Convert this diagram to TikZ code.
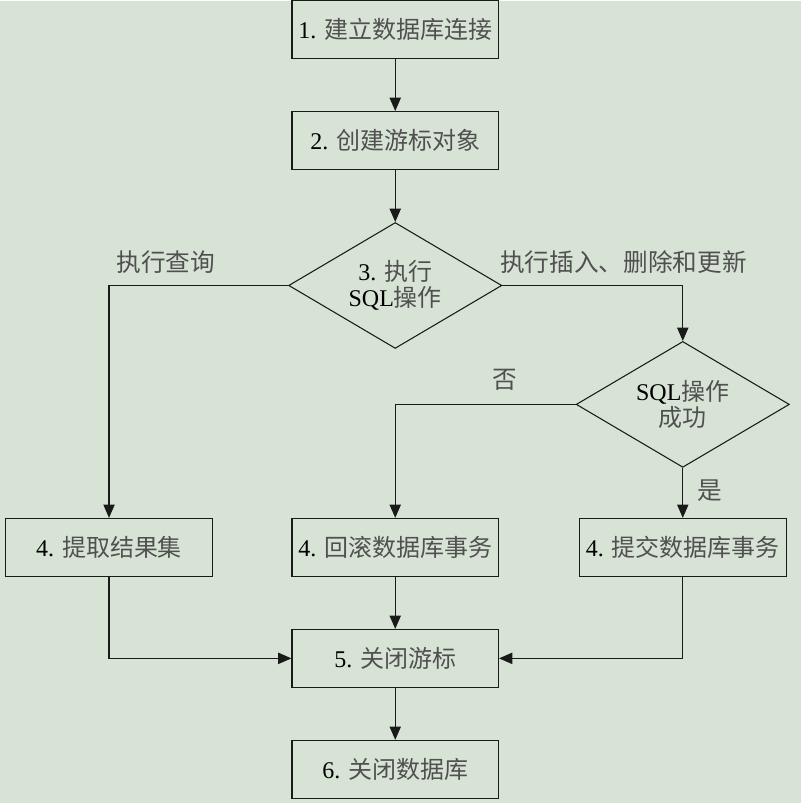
\documentclass[tikz,border=0pt]{standalone}
\usepackage{fontspec}
\setmainfont{Liberation Serif}
\newfontfamily\zhfont{Noto Sans CJK SC}
\usepackage{xcolor}
\usepackage{tikz}
\usetikzlibrary{arrows.meta,positioning,shapes.geometric}
\definecolor{flowBack}{HTML}{D7E4D5}
\definecolor{flowInk}{HTML}{1A1A1A}
\definecolor{flowText}{HTML}{505050}
\newcommand{\zh}[1]{{\zhfont\color{flowText}#1}}
\tikzset{
  process/.style={
    rectangle,
    draw=flowInk,
    line width=0.8pt,
    minimum width=155pt,
    minimum height=43.5pt,
    inner sep=0pt,
    align=center,
    font=\fontsize{18}{20}\selectfont
  },
  decision/.style={
    diamond,
    aspect=1.7,
    draw=flowInk,
    line width=0.8pt,
    minimum width=160pt,
    minimum height=94.5pt,
    inner sep=0pt,
    align=center,
    font=\fontsize{18}{20}\selectfont
  },
  arrow/.style={
    -{Triangle[length=10pt,width=8.5pt]},
    line width=0.8pt,
    draw=flowInk
  },
  note/.style={
    inner sep=0pt,
    font=\fontsize{18.5}{20}\selectfont
  }
}
\begin{document}
\begin{tikzpicture}[x=0.75pt,y=-0.75pt,node distance=39pt]
  \fill[flowBack] (0,0) rectangle (802,803);
  \node[process] (connect) at (395.5,29) {1. \zh{建立数据库连接}};
  \node[process,below=of connect] (cursor) {2. \zh{创建游标对象}};
  \node[decision,below=of cursor] (execute) {3. \zh{执行}\\SQL\zh{操作}};
  \node[process,below=126.75pt of execute] (rollback) {4. \zh{回滚数据库事务}};
  \node[process,left=59pt of rollback] (fetch) {4. \zh{提取结果集}};
  \node[process,right=60pt of rollback] (commit) {4. \zh{提交数据库事务}};
  \node[decision,above=37.5pt of commit] (success) {SQL\zh{操作}\\\zh{成功}};
  \node[process,below=of rollback] (closecur) {5. \zh{关闭游标}};
  \node[process,below=of closecur] (closedb) {6. \zh{关闭数据库}};
  % branch labels
  \node[note] (queryLbl) at (166,262) {\zh{执行查询}};
  \node[note] (modifyLbl) at (624,262) {\zh{执行插入、删除和更新}};
  \node[note] (noLbl) at (505,380) {\zh{否}};
  \node[note] (yesLbl) at (710,490) {\zh{是}};
  \draw[arrow] (connect) -- (cursor);
  \draw[arrow] (cursor) -- (execute);
  \draw[arrow] (execute.west) -| (fetch);
  \draw[arrow] (execute.east) -| (success);
  \draw[arrow] (success.west) -| (rollback);
  \draw[arrow] (success) -- (commit);
  \draw[arrow] (fetch) |- (closecur);
  \draw[arrow] (rollback) -- (closecur);
  \draw[arrow] (commit) |- (closecur);
  \draw[arrow] (closecur) -- (closedb);
\end{tikzpicture}
\end{document}
